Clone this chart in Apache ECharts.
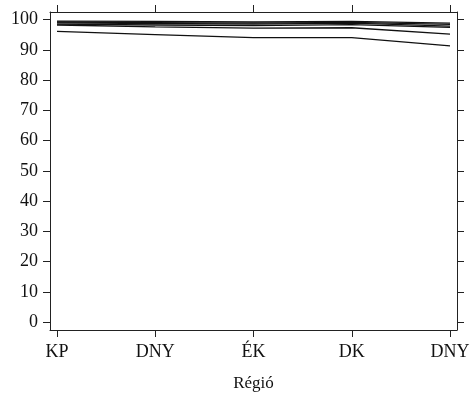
<!DOCTYPE html>
<html><head><meta charset="utf-8">
<script src="https://cdn.jsdelivr.net/npm/echarts@6/dist/echarts.min.js"></script>
<style>html,body{margin:0;padding:0;background:#fff}#c{width:470px;height:394px}</style>
</head><body><div id="c"></div>
<script>
const categories = ['KP', 'DNY', 'ÉK', 'DK', 'DNY'];
const yTicks = [0, 10, 20, 30, 40, 50, 60, 70, 80, 90, 100];
const s1 = [99.5, 99.4, 99.2, 99.4, 98.8];
const s2 = [99.2, 99.0, 98.8, 99.1, 98.4];
const s3 = [98.9, 98.7, 98.5, 98.8, 97.8];
const s4 = [98.5, 98.2, 98.0, 98.3, 97.4];
const s5 = [98.2, 97.6, 97.2, 97.3, 95.2];
const s6 = [96.1, 95.0, 94.0, 94.0, 91.3];
const seriesData = [s1, s2, s3, s4, s5, s6];

const font = 'Liberation Serif';
const xIdx = categories.map((_, i) => i);
const common = {axisLine: {show: true, onZero: false, lineStyle: {color: '#222', width: 1}}, splitLine: {show: false}};
const chart = echarts.init(document.getElementById('c'));
chart.setOption({
  animation: false,
  grid: {left: 50, right: 13, top: 12, bottom: 64, outerBoundsMode: 'none', containLabel: false},
  xAxis: [
    Object.assign({}, common, {type: 'value', min: -0.071, max: 4.071, position: 'bottom',
      axisTick: {show: true, inside: false, length: 7, customValues: xIdx, lineStyle: {color: '#222'}},
      axisLabel: {show: true, customValues: xIdx, margin: 13, color: '#111', fontFamily: font, fontSize: 18,
        formatter: v => categories[Math.round(v)]},
      name: 'Régió', nameLocation: 'middle', nameGap: 45,
      nameTextStyle: {color: '#111', fontFamily: font, fontSize: 17}}),
    Object.assign({}, common, {type: 'value', min: -0.071, max: 4.071, position: 'top',
      axisTick: {show: true, inside: false, length: 7, customValues: xIdx, lineStyle: {color: '#222'}},
      axisLabel: {show: false}})
  ],
  yAxis: [
    Object.assign({}, common, {type: 'value', min: -2.6, max: 102.5, position: 'left',
      axisTick: {show: true, inside: false, length: 7, customValues: yTicks, lineStyle: {color: '#222'}},
      axisLabel: {show: true, customValues: yTicks, margin: 12, color: '#111', fontFamily: font, fontSize: 18}}),
    Object.assign({}, common, {type: 'value', min: -2.6, max: 102.5, position: 'right',
      axisTick: {show: true, inside: false, length: 7, customValues: yTicks, lineStyle: {color: '#222'}},
      axisLabel: {show: false}})
  ],
  series: seriesData.map(d => ({
    type: 'line', xAxisIndex: 0, yAxisIndex: 0, symbol: 'none',
    lineStyle: {color: '#111', width: 1.3},
    data: d.map((v, i) => [i, v])
  }))
});
</script></body></html>
